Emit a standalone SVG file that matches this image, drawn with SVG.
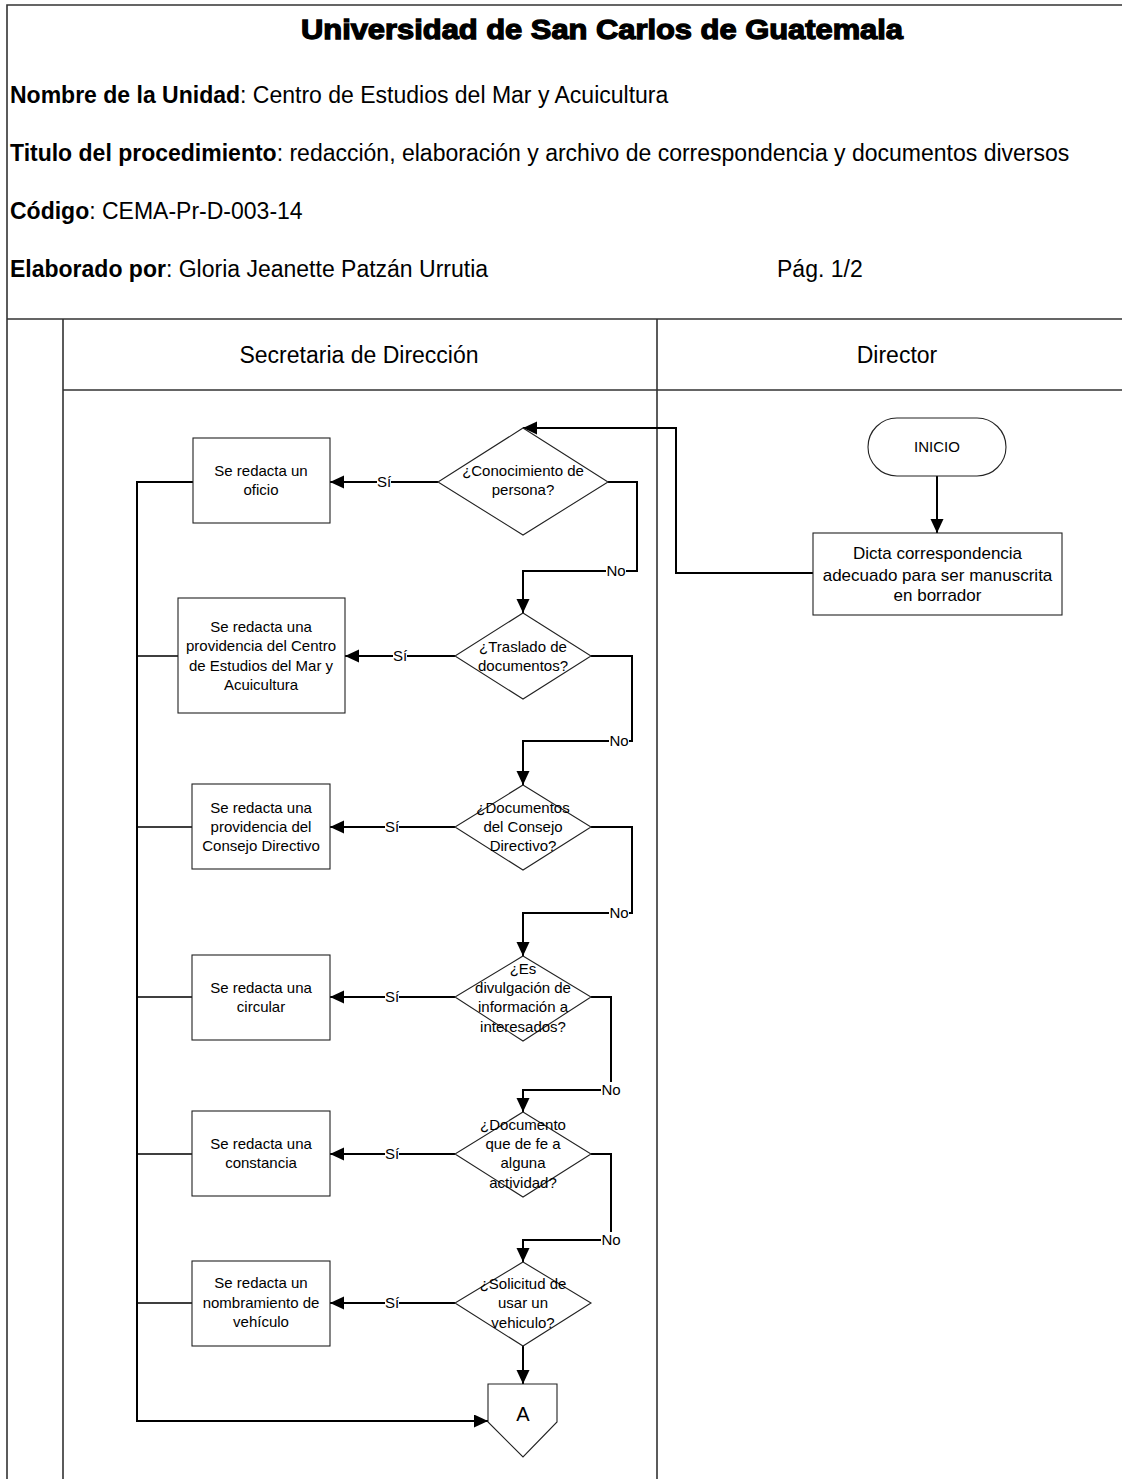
<svg xmlns="http://www.w3.org/2000/svg" width="1122" height="1479" viewBox="0 0 1122 1479">
<style>
text{font-family:"Liberation Sans",Arial,sans-serif;fill:#000}
.hdr{font-size:23px}
.b{font-weight:bold}
.t{font-size:15px;text-anchor:middle}
.td{font-size:17px;text-anchor:middle}
.lane{font-size:23px;text-anchor:middle}
.frame{fill:none;stroke:#333;stroke-width:1.6}
.shape{fill:#fff;stroke:#222;stroke-width:1.1}
.con{fill:none;stroke:#000;stroke-width:2}
.thin{fill:none;stroke:#000;stroke-width:1.5}
.lbl{fill:#fff}
</style>
<defs>
<marker id="ah" markerUnits="userSpaceOnUse" markerWidth="15" markerHeight="14" refX="14" refY="6.5" orient="auto">
<path d="M0,0 L14,6.5 L0,13 z" fill="#000"/>
</marker>
</defs>
<rect width="1122" height="1479" fill="#fff"/>
<g id="frame">
<path class="frame" d="M7,1479 V5 H1122 M7,319 H1122 M63,319 V1479 M657,319 V1479 M63,390 H1122"/>
</g>
<g id="header">
<text x="602" y="39" font-size="28" font-weight="bold" text-anchor="middle" textLength="602" lengthAdjust="spacingAndGlyphs" stroke="#000" stroke-width="1.3">Universidad de San Carlos de Guatemala</text>
<text class="hdr" x="10" y="103"><tspan class="b">Nombre de la Unidad</tspan>: Centro de Estudios del Mar y Acuicultura</text>
<text class="hdr" x="10" y="161"><tspan class="b">Titulo del procedimiento</tspan>: redacción, elaboración y archivo de correspondencia y documentos diversos</text>
<text class="hdr" x="10" y="219"><tspan class="b">Código</tspan>: CEMA-Pr-D-003-14</text>
<text class="hdr" x="10" y="277"><tspan class="b">Elaborado por</tspan>: Gloria Jeanette Patzán Urrutia</text>
<text class="hdr" x="777" y="277">Pág. 1/2</text>
</g>
<g id="lanes">
<text class="lane" x="359" y="363">Secretaria de Dirección</text>
<text class="lane" x="897" y="363">Director</text>
</g>
<g id="connectors">
<path class="con" d="M937,476 V533" marker-end="url(#ah)"/>
<path class="con" d="M813,573 H676 V428 H523" marker-end="url(#ah)"/>
<path class="con" d="M438,482 H330" marker-end="url(#ah)"/>
<path class="con" d="M608,482 H637 V571 H523 V613" marker-end="url(#ah)"/>
<path class="con" d="M455,656 H345" marker-end="url(#ah)"/>
<path class="con" d="M591,656 H632 V741 H523 V785" marker-end="url(#ah)"/>
<path class="con" d="M455,827 H330" marker-end="url(#ah)"/>
<path class="con" d="M591,827 H632 V913 H523 V956" marker-end="url(#ah)"/>
<path class="con" d="M455,997 H330" marker-end="url(#ah)"/>
<path class="con" d="M591,997 H611 V1090 H523 V1112" marker-end="url(#ah)"/>
<path class="con" d="M455,1154 H330" marker-end="url(#ah)"/>
<path class="con" d="M591,1154 H611 V1240 H523 V1262" marker-end="url(#ah)"/>
<path class="con" d="M455,1303 H330" marker-end="url(#ah)"/>
<path class="con" d="M523,1346 V1384" marker-end="url(#ah)"/>
<path class="con" d="M193,482 H137 V1421 H488" marker-end="url(#ah)"/>
<path class="thin" d="M178,656 H137 M192,827 H137 M192,997 H137 M192,1154 H137 M192,1303 H137"/>
<g id="labels">
<rect class="lbl" x="377" y="474" width="14" height="16"/><text class="t" x="384" y="487">Sí</text>
<rect class="lbl" x="393" y="648" width="14" height="16"/><text class="t" x="400" y="661">Sí</text>
<rect class="lbl" x="385" y="819" width="14" height="16"/><text class="t" x="392" y="832">Sí</text>
<rect class="lbl" x="385" y="989" width="14" height="16"/><text class="t" x="392" y="1002">Sí</text>
<rect class="lbl" x="385" y="1146" width="14" height="16"/><text class="t" x="392" y="1159">Sí</text>
<rect class="lbl" x="385" y="1295" width="14" height="16"/><text class="t" x="392" y="1308">Sí</text>
<rect class="lbl" x="606" y="563" width="20" height="16"/><text class="t" x="616" y="576">No</text>
<rect class="lbl" x="609" y="733" width="20" height="16"/><text class="t" x="619" y="746">No</text>
<rect class="lbl" x="609" y="905" width="20" height="16"/><text class="t" x="619" y="918">No</text>
<rect class="lbl" x="601" y="1082" width="20" height="16"/><text class="t" x="611" y="1095">No</text>
<rect class="lbl" x="601" y="1232" width="20" height="16"/><text class="t" x="611" y="1245">No</text>
</g>
</g>
<g id="inicio">
<rect class="shape" x="868" y="418" width="138" height="58" rx="29"/>
<text class="t" x="937" y="452">INICIO</text>
</g>
<g id="dicta">
<rect class="shape" x="813" y="533" width="249" height="82"/>
<text class="td" x="937.5" y="559">Dicta correspondencia</text>
<text class="td" x="937.5" y="581">adecuado para ser manuscrita</text>
<text class="td" x="937.5" y="601">en borrador</text>
</g>
<g id="d1">
<polygon class="shape" points="523,428 608,482 523,535 438,482"/>
<text class="t" x="523" y="476">¿Conocimiento de</text>
<text class="t" x="523" y="495">persona?</text>
</g>
<g id="b1">
<rect class="shape" x="193" y="438" width="137" height="85"/>
<text class="t" x="261" y="476">Se redacta un</text>
<text class="t" x="261" y="495">oficio</text>
</g>
<g id="d2">
<polygon class="shape" points="523,613 591,656 523,699 455,656"/>
<text class="t" x="523" y="652">¿Traslado de</text>
<text class="t" x="523" y="671">documentos?</text>
</g>
<g id="b2">
<rect class="shape" x="178" y="598" width="167" height="115"/>
<text class="t" x="261" y="632">Se redacta una</text>
<text class="t" x="261" y="651">providencia del Centro</text>
<text class="t" x="261" y="671">de Estudios del Mar y</text>
<text class="t" x="261" y="690">Acuicultura</text>
</g>
<g id="d3">
<polygon class="shape" points="523,785 591,827 523,870 455,827"/>
<text class="t" x="523" y="813">¿Documentos</text>
<text class="t" x="523" y="832">del Consejo</text>
<text class="t" x="523" y="851">Directivo?</text>
</g>
<g id="b3">
<rect class="shape" x="192" y="784" width="138" height="85"/>
<text class="t" x="261" y="813">Se redacta una</text>
<text class="t" x="261" y="832">providencia del</text>
<text class="t" x="261" y="851">Consejo Directivo</text>
</g>
<g id="d4">
<polygon class="shape" points="523,956 591,997 523,1041 455,997"/>
<text class="t" x="523" y="974">¿Es</text>
<text class="t" x="523" y="993">divulgación de</text>
<text class="t" x="523" y="1012">información a</text>
<text class="t" x="523" y="1032">interesados?</text>
</g>
<g id="b4">
<rect class="shape" x="192" y="955" width="138" height="85"/>
<text class="t" x="261" y="993">Se redacta una</text>
<text class="t" x="261" y="1012">circular</text>
</g>
<g id="d5">
<polygon class="shape" points="523,1112 591,1154 523,1197 455,1154"/>
<text class="t" x="523" y="1130">¿Documento</text>
<text class="t" x="523" y="1149">que de fe a</text>
<text class="t" x="523" y="1168">alguna</text>
<text class="t" x="523" y="1188">actividad?</text>
</g>
<g id="b5">
<rect class="shape" x="192" y="1111" width="138" height="85"/>
<text class="t" x="261" y="1149">Se redacta una</text>
<text class="t" x="261" y="1168">constancia</text>
</g>
<g id="d6">
<polygon class="shape" points="523,1262 591,1303 523,1346 455,1303"/>
<text class="t" x="523" y="1289">¿Solicitud de</text>
<text class="t" x="523" y="1308">usar un</text>
<text class="t" x="523" y="1328">vehiculo?</text>
</g>
<g id="b6">
<rect class="shape" x="192" y="1261" width="138" height="85"/>
<text class="t" x="261" y="1288">Se redacta un</text>
<text class="t" x="261" y="1308">nombramiento de</text>
<text class="t" x="261" y="1327">vehículo</text>
</g>
<g id="conA">
<polygon class="shape" points="488,1384 557,1384 557,1422 523,1457 488,1422"/>
<text x="523" y="1421" font-size="20" text-anchor="middle">A</text>
</g>
</svg>
